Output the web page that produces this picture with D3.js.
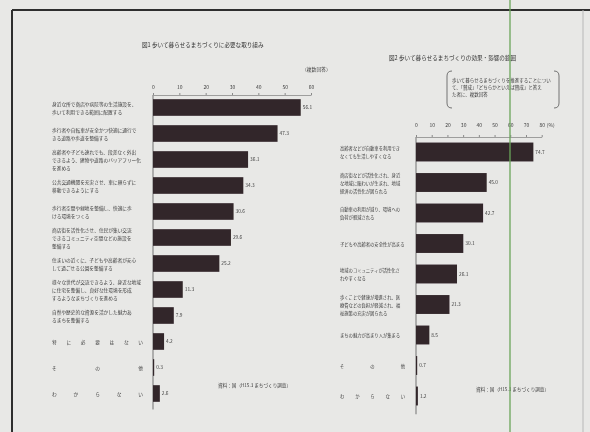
<!DOCTYPE html>
<html>
<head>
<meta charset="UTF-8">
<title>歩いて暮らせるまちづくり</title>
<style>
  html, body { margin: 0; padding: 0; background: #e8e8e6; }
  text { font-family: "Noto Sans CJK JP", "Noto Sans", sans-serif; fill: #3c3c3c; }
</style>
</head>
<body>
<div id="app"></div>
<script src="https://d3js.org/d3.v7.min.js"></script>
<script>
// 図1 data
const leftCats = [
  "身近な所で商店や病院等の生活施設を、\n歩いて利用できる範囲に配置する",
  "歩行者や自転車が安全かつ快適に通行で\nきる道路や歩道を整備する",
  "高齢者や子ども連れでも、段差なく外出\nできるよう、建物や道路のバリアフリー化\nを進める",
  "公共交通機関を充実させ、車に頼らずに\n移動できるようにする",
  "歩行者空間や緑地を整備し、快適に歩\nける環境をつくる",
  "商店街を活性化させ、住民が集い交流\nできるコミュニティ空間などの施設を\n整備する",
  "住まいの近くに、子どもや高齢者が安心\nして過ごせる公園を整備する",
  "様々な世代が交流できるよう、身近な地域\nに住宅を整備し、良好な住環境を形成\nするようなまちづくりを進める",
  "自然や歴史的な資源を活かした魅力あ\nるまちを整備する",
  "特に必要はない",
  "その他",
  "わからない"
];
const leftValues = [56.1, 47.3, 36.1, 34.3, 30.6, 29.6, 25.2, 11.3, 7.9, 4.2, 0.3, 2.6];
const leftTicks = [0, 10, 20, 30, 40, 50, 60];

// 図2 data
const rightCats = [
  "高齢者などが自動車を利用でき\nなくても生活しやすくなる",
  "商店街などが活性化され、身近\nな地域に賑わいが生まれ、地域\n経済の活性化が図られる",
  "自動車の利用が減り、環境への\n負荷が軽減される",
  "子どもや高齢者の安全性が高まる",
  "地域のコミュニティが活性化さ\nれやすくなる",
  "歩くことで健康が増進され、医\n療費などの負担が軽減され、福\n祉施策の充実が図られる",
  "まちの魅力が高まり人が集まる",
  "その他",
  "わからない"
];
const rightValues = [74.7, 45.0, 42.7, 30.1, 26.1, 21.3, 8.5, 0.7, 1.2];
const rightTicks = [0, 10, 20, 30, 40, 50, 60, 70, 80];

const spacedLabels = ["特に必要はない", "その他", "わからない"];

const W = 590, H = 432;
const barColor = "#33272a";

const svg = d3.select("#app").append("svg")
  .attr("width", W).attr("height", H);

svg.append("defs").append("filter").attr("id", "scan")
  .append("feGaussianBlur").attr("stdDeviation", 0.3);

svg.append("rect").attr("width", W).attr("height", H).attr("fill", "#e8e8e6");

const page = svg.append("g").attr("filter", "url(#scan)");

// frame of the scanned page
page.append("line").attr("x1", 12).attr("x2", W).attr("y1", 10).attr("y2", 10)
  .attr("stroke", "#2e2e2e").attr("stroke-width", 2);
page.append("line").attr("x1", 12).attr("x2", 12).attr("y1", 10).attr("y2", H)
  .attr("stroke", "#2e2e2e").attr("stroke-width", 2);
page.append("line").attr("x1", 583).attr("x2", 583).attr("y1", 10).attr("y2", H)
  .attr("stroke", "#b8b8b8").attr("stroke-width", 1);

function drawChart(opt) {
  const g = page.append("g");
  const x = d3.scaleLinear().domain([0, opt.max]).range([opt.x0, opt.x1]);
  const y = d3.scaleBand().domain(opt.cats)
    .range([opt.y0, opt.y1]).paddingInner(opt.pad).paddingOuter(opt.pad / 2);

  // top axis
  const ax = g.append("g").attr("transform", `translate(0,${opt.axisY})`)
    .call(d3.axisTop(x).tickValues(opt.ticks).tickSize(2).tickSizeOuter(0).tickPadding(opt.tickPad));
  ax.select(".domain").attr("stroke", "#8a8a8a").attr("stroke-width", 0.8);
  ax.selectAll(".tick line").attr("stroke", "#8a8a8a");
  ax.selectAll("text").attr("font-size", 5).style("fill", "#3c3c3c")
    .attr("font-family", "Noto Sans CJK JP");
  if (opt.unitPct) {
    g.append("text").attr("x", x(opt.max) + 5).attr("y", opt.axisY - 2 - opt.tickPad)
      .attr("font-size", 5).text("(%)");
  }

  // vertical base line
  g.append("line").attr("x1", x(0)).attr("x2", x(0))
    .attr("y1", opt.axisY).attr("y2", opt.y1 + 3)
    .attr("stroke", "#555").attr("stroke-width", 0.8);

  // bars
  g.selectAll("rect.bar").data(opt.values).join("rect")
    .attr("class", "bar")
    .attr("x", x(0))
    .attr("y", (d, i) => y(opt.cats[i]))
    .attr("width", d => Math.max(1.2, x(d) - x(0)))
    .attr("height", y.bandwidth())
    .attr("fill", barColor);

  g.selectAll("text.val").data(opt.values).join("text")
    .attr("class", "val")
    .attr("x", d => Math.max(x(0) + 1.2, x(d)) + 2)
    .attr("y", (d, i) => y(opt.cats[i]) + y.bandwidth() / 2 + 1.8)
    .attr("font-size", 4.8)
    .text(d => d.toFixed(1));

  // category labels
  opt.cats.forEach(c => {
    const cy = y(c) + y.bandwidth() / 2;
    if (spacedLabels.includes(c)) {
      g.append("text").attr("x", opt.labX0).attr("y", cy + 2)
        .attr("font-size", opt.labSize)
        .attr("textLength", opt.labX1 - opt.labX0).attr("lengthAdjust", "spacing")
        .text(c);
    } else {
      const lines = c.split("\n");
      const t = g.append("text").attr("font-size", opt.labSize);
      lines.forEach((ln, k) => {
        t.append("tspan").attr("x", opt.labX0)
          .attr("y", cy + 2 + (k - (lines.length - 1) / 2) * opt.lineH)
          .text(ln);
      });
    }
  });
  return { x, y };
}

// 図1
page.append("text").attr("x", 142).attr("y", 47).attr("font-size", 5.6).style("fill", "#333")
  .text("図1 歩いて暮らせるまちづくりに必要な取り組み");
page.append("text").attr("x", 302).attr("y", 71).attr("font-size", 4.8)
  .text("（複数回答）");
drawChart({
  cats: leftCats, values: leftValues, ticks: leftTicks, max: 60,
  x0: 153, x1: 311, y0: 94.5, y1: 406.5, pad: 0.36,
  axisY: 95, tickPad: 4, labX0: 52, labX1: 143, labSize: 4.7, lineH: 8
});
page.append("text").attr("x", 218).attr("y", 387).attr("font-size", 4.6)
  .text("資料：国（H15.3 まちづくり調査）");

// 図2
page.append("text").attr("x", 389).attr("y", 60).attr("font-size", 5.6).style("fill", "#333")
  .text("図2 歩いて暮らせるまちづくりの効果・影響の範囲");
const note = page.append("g");
const noteLines = [
  "歩いて暮らせるまちづくりを推進することについ",
  "て、「賛成」「どちらかといえば賛成」と答え",
  "た者に、複数回答"
];
noteLines.forEach((t, k) => {
  note.append("text").attr("x", 452).attr("y", 82 + k * 7).attr("font-size", 4.5).text(t);
});
note.append("path").attr("d", "M452,71 Q447,71 447,76 L447,103 Q447,108 452,108")
  .attr("fill", "none").attr("stroke", "#555").attr("stroke-width", 0.8);
note.append("path").attr("d", "M554,71 Q559,71 559,76 L559,103 Q559,108 554,108")
  .attr("fill", "none").attr("stroke", "#555").attr("stroke-width", 0.8);

drawChart({
  cats: rightCats, values: rightValues, ticks: rightTicks, max: 80, unitPct: true,
  x0: 416, x1: 541.7, y0: 136.75, y1: 411.25, pad: 0.38,
  axisY: 137, tickPad: 8, labX0: 340, labX1: 405, labSize: 4.3, lineH: 8
});
page.append("text").attr("x", 476).attr("y", 391).attr("font-size", 4.6)
  .text("資料：国（H15.3 まちづくり調査）");

// green marker line across the scan
svg.append("line").attr("x1", 510).attr("x2", 510).attr("y1", 0).attr("y2", H)
  .attr("stroke", "#6aa55a").attr("stroke-width", 1.3);
</script>
</body>
</html>
